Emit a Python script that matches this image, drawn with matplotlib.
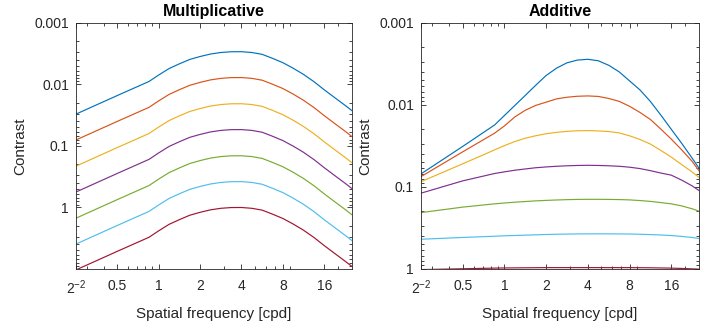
import numpy as np
import matplotlib
matplotlib.use("Agg")
import matplotlib.pyplot as plt
from matplotlib.ticker import FixedLocator, LogLocator, NullFormatter

plt.rcParams['font.family'] = ['Liberation Sans', 'DejaVu Sans']
plt.rcParams['mathtext.fontset'] = 'custom'
plt.rcParams['mathtext.rm'] = 'Liberation Sans'
plt.rcParams['mathtext.it'] = 'Liberation Sans'

TXT = '#262626'

# spatial frequency samples [cpd]
freq = [0.25, 0.5, 0.85, 1.0, 1.19, 1.41, 1.68, 2.0, 2.38, 2.83, 3.36, 4.0,
        4.76, 5.66, 6.73, 8.0, 9.51, 11.3, 13.5, 16.0, 19.0, 22.6, 25.5]

# log10 contrast, multiplicative panel (top curve first)
mult_blue   = [-1.515, -1.817, -2.045, -2.15, -2.255, -2.33, -2.402, -2.45, -2.49, -2.515, -2.527, -2.528,
               -2.515, -2.485, -2.42, -2.35, -2.26, -2.16, -2.04, -1.91, -1.785, -1.66, -1.57]
mult_orange = [-1.095, -1.397, -1.625, -1.73, -1.835, -1.91, -1.982, -2.03, -2.07, -2.095, -2.107, -2.108,
               -2.095, -2.065, -2.0, -1.93, -1.84, -1.74, -1.62, -1.49, -1.365, -1.24, -1.15]
mult_yellow = [-0.67, -0.972, -1.2, -1.305, -1.41, -1.485, -1.557, -1.605, -1.645, -1.67, -1.682, -1.683,
               -1.67, -1.64, -1.575, -1.505, -1.415, -1.315, -1.195, -1.065, -0.94, -0.815, -0.725]
mult_purple = [-0.25, -0.552, -0.78, -0.885, -0.99, -1.065, -1.137, -1.185, -1.225, -1.25, -1.262, -1.263,
               -1.25, -1.22, -1.155, -1.085, -0.995, -0.895, -0.775, -0.645, -0.52, -0.395, -0.305]
mult_green  = [0.175, -0.127, -0.355, -0.46, -0.565, -0.64, -0.712, -0.76, -0.80, -0.825, -0.837, -0.838,
               -0.825, -0.795, -0.73, -0.66, -0.57, -0.47, -0.35, -0.22, -0.095, 0.03, 0.12]
mult_cyan   = [0.595, 0.293, 0.065, -0.04, -0.145, -0.22, -0.292, -0.34, -0.38, -0.405, -0.417, -0.418,
               -0.405, -0.375, -0.31, -0.24, -0.15, -0.05, 0.07, 0.20, 0.325, 0.45, 0.54]
mult_red    = [1.015, 0.713, 0.485, 0.38, 0.275, 0.20, 0.128, 0.08, 0.04, 0.015, 0.003, 0.002,
               0.015, 0.045, 0.11, 0.18, 0.27, 0.37, 0.49, 0.62, 0.745, 0.87, 0.96]

# log10 contrast, additive panel
add_blue   = [-1.155, -1.49, -1.752, -1.867, -1.99, -2.11, -2.235, -2.355, -2.445, -2.51, -2.543, -2.553,
              -2.535, -2.48, -2.40, -2.29, -2.18, -2.04, -1.87, -1.70, -1.53, -1.35, -1.22]
add_orange = [-1.122, -1.424, -1.652, -1.74, -1.85, -1.93, -1.99, -2.03, -2.07, -2.09, -2.102, -2.106,
              -2.10, -2.075, -2.04, -1.98, -1.905, -1.82, -1.70, -1.58, -1.45, -1.31, -1.19]
add_yellow = [-1.06, -1.278, -1.448, -1.50, -1.55, -1.59, -1.62, -1.645, -1.662, -1.674, -1.681, -1.683,
              -1.679, -1.672, -1.655, -1.62, -1.575, -1.52, -1.44, -1.36, -1.27, -1.18, -1.11]
add_purple = [-0.92, -1.07, -1.16, -1.18, -1.20, -1.215, -1.23, -1.24, -1.248, -1.254, -1.258, -1.26,
              -1.258, -1.254, -1.248, -1.237, -1.22, -1.195, -1.165, -1.14, -1.08, -1.01, -0.95]
add_green  = [-0.683, -0.75, -0.79, -0.80, -0.81, -0.818, -0.826, -0.832, -0.837, -0.841, -0.844, -0.845,
              -0.845, -0.844, -0.842, -0.838, -0.83, -0.82, -0.805, -0.79, -0.765, -0.73, -0.70]
add_cyan   = [-0.358, -0.38, -0.395, -0.40, -0.404, -0.408, -0.412, -0.416, -0.419, -0.421, -0.423, -0.424,
              -0.424, -0.424, -0.423, -0.422, -0.419, -0.415, -0.41, -0.403, -0.393, -0.38, -0.366]
add_red    = [0.012, 0.002, -0.006, -0.008, -0.009, -0.01, -0.011, -0.012, -0.012, -0.012, -0.012, -0.012,
              -0.012, -0.012, -0.012, -0.012, -0.011, -0.01, -0.008, -0.006, -0.002, 0.003, 0.007]

colors = ['#0072BD', '#D95319', '#EDB120', '#7E2F8E', '#77AC30', '#4DBEEE', '#A2142F']
mult = [mult_blue, mult_orange, mult_yellow, mult_purple, mult_green, mult_cyan, mult_red]
add = [add_blue, add_orange, add_yellow, add_purple, add_green, add_cyan, add_red]

xticks = [0.25, 0.5, 1, 2, 4, 8, 16]
xticklabels = ['$2^{-2}$', '0.5', '1', '2', '4', '8', '16']
yticks = [0.001, 0.01, 0.1, 1]
yticklabels = ['0.001', '0.01', '0.1', '1']

fig = plt.figure(figsize=(7.2, 3.28), dpi=100)
ax1 = fig.add_axes([0.1056, 0.180, 0.3833, 0.751])
ax2 = fig.add_axes([0.5847, 0.180, 0.3865, 0.751])

for ax, curves, title, ylim in [(ax1, mult, 'Multiplicative', (10, 0.001)),
                                 (ax2, add, 'Additive', (1.01, 0.001))]:
    for c, col in zip(curves, colors):
        ax.plot(freq, 10 ** np.array(c), color=col, lw=0.85)
    ax.set_xscale('log')
    ax.set_yscale('log')
    ax.set_xlim(0.25, 25.5)
    ax.set_ylim(*ylim)
    ax.xaxis.set_major_locator(FixedLocator(xticks))
    ax.set_xticklabels(xticklabels)
    ax.xaxis.set_minor_locator(LogLocator(base=10, subs=np.arange(2, 10)))
    ax.xaxis.set_minor_formatter(NullFormatter())
    ax.yaxis.set_major_locator(FixedLocator(yticks))
    ax.set_yticklabels(yticklabels)
    ax.yaxis.set_minor_locator(LogLocator(base=10, subs=np.arange(2, 10)))
    ax.yaxis.set_minor_formatter(NullFormatter())
    ax.tick_params(which='both', direction='in', top=True, right=True,
                   colors=TXT, labelsize=10, width=0.6)
    ax.tick_params(which='major', length=3.5)
    ax.tick_params(which='minor', length=2)
    ax.tick_params(axis='x', which='major', pad=7)
    ax.tick_params(axis='y', which='major', pad=5)
    for s in ax.spines.values():
        s.set_color(TXT)
        s.set_linewidth(0.6)
    ax.set_title(title, fontsize=11.5, fontweight='bold', color='black', pad=5)
    ax.set_xlabel('Spatial frequency [cpd]', fontsize=11, color=TXT, labelpad=7)
    ax.set_ylabel('Contrast', fontsize=11, color=TXT, labelpad=5.5)

fig.savefig('out.png', dpi=100)
